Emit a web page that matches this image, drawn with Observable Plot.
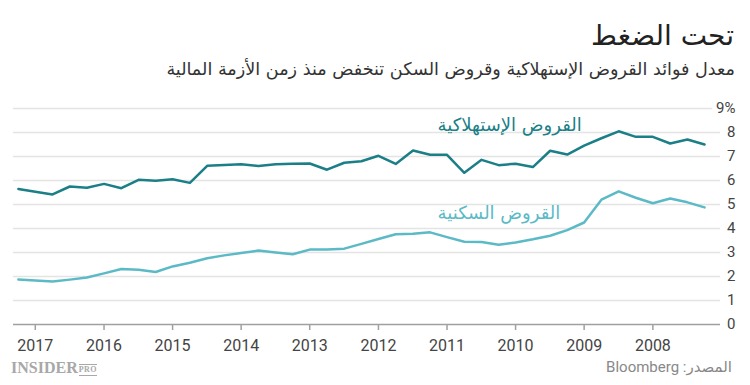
<!DOCTYPE html>
<html lang="ar">
<head>
<meta charset="utf-8">
<script src="https://cdn.jsdelivr.net/npm/d3@7"></script>
<script src="https://cdn.jsdelivr.net/npm/@observablehq/plot@0.6"></script>
<style>
  html, body { margin: 0; padding: 0; background: #fff; }
  body { width: 750px; height: 385px; position: relative; overflow: hidden; font-family: Roboto, "DejaVu Sans", sans-serif; }
  #title { position: absolute; right: 16px; top: 19px; font-size: 28px; line-height: 34px; color: #222; direction: rtl; font-family: "DejaVu Sans", sans-serif; white-space: nowrap; }
  #subtitle { position: absolute; right: 15px; top: 57px; font-size: 17.6px; line-height: 24px; color: #333; direction: rtl; font-family: "DejaVu Sans", sans-serif; white-space: nowrap; }
  #chart { position: absolute; left: 0; top: 95px; }
  #chart svg text { paint-order: stroke; }
  #logo { position: absolute; left: 11px; top: 360px; color: #a8a8a8; font-family: "Liberation Serif", "DejaVu Serif", serif; font-weight: bold; font-size: 16px; line-height: 16px; white-space: nowrap; }
  #logo .pro { display: inline-block; font-size: 8px; line-height: 8px; border-top: 1px solid #a8a8a8; border-bottom: 1px solid #a8a8a8; padding: 1px 0; margin-left: 1px; vertical-align: 1px; letter-spacing: 0.5px; }
  #source { position: absolute; right: 18px; top: 357px; font-size: 15px; line-height: 20px; color: #888; direction: rtl; white-space: nowrap; }
</style>
</head>
<body>
<div id="title">تحت الضغط</div>
<div id="subtitle">معدل فوائد القروض الإستهلاكية وقروض السكن تنخفض منذ زمن الأزمة المالية</div>
<div id="chart"></div>
<div id="logo">INSIDER<span class="pro">PRO</span></div>
<div id="source">المصدر: Bloomberg</div>
<script>
const quarters = [
  "2017-04-01","2017-01-01","2016-10-01","2016-07-01","2016-04-01","2016-01-01",
  "2015-10-01","2015-07-01","2015-04-01","2015-01-01","2014-10-01","2014-07-01",
  "2014-04-01","2014-01-01","2013-10-01","2013-07-01","2013-04-01","2013-01-01",
  "2012-10-01","2012-07-01","2012-04-01","2012-01-01","2011-10-01","2011-07-01",
  "2011-04-01","2011-01-01","2010-10-01","2010-07-01","2010-04-01","2010-01-01",
  "2009-10-01","2009-07-01","2009-04-01","2009-01-01","2008-10-01","2008-07-01",
  "2008-04-01","2008-01-01","2007-10-01","2007-07-01","2007-04-01"
];
// Consumer loans rate, %
const consumer = [
  5.65,5.53,5.42,5.75,5.70,5.86,5.68,6.03,5.99,6.05,5.90,6.61,6.65,6.68,6.60,6.68,
  6.70,6.71,6.45,6.74,6.80,7.03,6.69,7.25,7.07,7.07,6.32,6.86,6.64,6.70,6.56,7.24,
  7.08,7.45,7.76,8.05,7.82,7.82,7.54,7.71,7.50
];
// Housing loans rate, %
const housing = [
  1.87,1.83,1.79,1.87,1.96,2.13,2.31,2.28,2.19,2.42,2.57,2.76,2.88,2.98,3.08,3.00,
  2.93,3.12,3.13,3.16,3.36,3.56,3.76,3.78,3.84,3.64,3.45,3.44,3.32,3.42,3.55,3.70,
  3.93,4.25,5.20,5.55,5.28,5.05,5.25,5.09,4.88
];
const seriesNames = ["القروض الإستهلاكية", "القروض السكنية"];
const seriesColors = ["#1b7f87", "#5bbac6"];
const yearTicks = [2008, 2009, 2010, 2011, 2012, 2013, 2014, 2015, 2016, 2017];
const yTicks = [0, 1, 2, 3, 4, 5, 6, 7, 8, 9];
// label anchor points (date, value) for the series names
const labelDates = ["2011-02-20", "2011-02-20"];
const labelValues = [8.3, 4.62];

const parse = d3.utcParse("%Y-%m-%d");
const rows = [];
quarters.forEach((q, i) => {
  rows.push({date: parse(q), value: consumer[i], series: seriesNames[0]});
  rows.push({date: parse(q), value: housing[i], series: seriesNames[1]});
});
const labels = seriesNames.map((name, i) => ({name, date: parse(labelDates[i]), value: labelValues[i]}));
const colorOf = name => seriesColors[seriesNames.indexOf(name)];

const chart = Plot.plot({
  width: 750,
  height: 262,
  marginTop: 13,
  marginBottom: 33,
  marginLeft: 13,
  marginRight: 30,
  style: {fontFamily: "Roboto, 'DejaVu Sans', sans-serif", background: "#fff", overflow: "visible"},
  x: {type: "utc", domain: [parse("2007-01-06"), parse("2017-04-27")], reverse: true, label: null},
  y: {domain: [0, 9], label: null},
  marks: [
    Plot.ruleY(yTicks.filter(d => d > 0), {stroke: "#e4e4e4", strokeWidth: 1.5}),
    Plot.ruleY([0], {stroke: "#a0a0a0", strokeWidth: 1.5}),
    Plot.axisX({
      ticks: yearTicks.map(y => new Date(Date.UTC(y, 0, 1))),
      tickFormat: d3.utcFormat("%Y"),
      tickSize: 6, tickPadding: 9,
      stroke: "#a0a0a0", strokeWidth: 1.5,
      fill: "#444", fontSize: 16, label: null
    }),
    Plot.axisY({
      anchor: "right",
      ticks: yTicks,
      tickSize: 0, tickPadding: 15,
      textAnchor: "end",
      tickFormat: d => d === 9 ? "9%" : String(d),
      fill: "#444", fontSize: 15, label: null,
      textStroke: "#fff", textStrokeWidth: 10
    }),
    Plot.line(rows, {x: "date", y: "value", z: "series", stroke: d => colorOf(d.series), strokeWidth: 2.5}),
    Plot.text(labels, {
      x: "date", y: "value", text: "name",
      fill: d => colorOf(d.name),
      textAnchor: "start", fontSize: 18,
      fontFamily: "'DejaVu Sans', sans-serif"
    })
  ]
});
document.getElementById("chart").appendChild(chart);
</script>
</body>
</html>
